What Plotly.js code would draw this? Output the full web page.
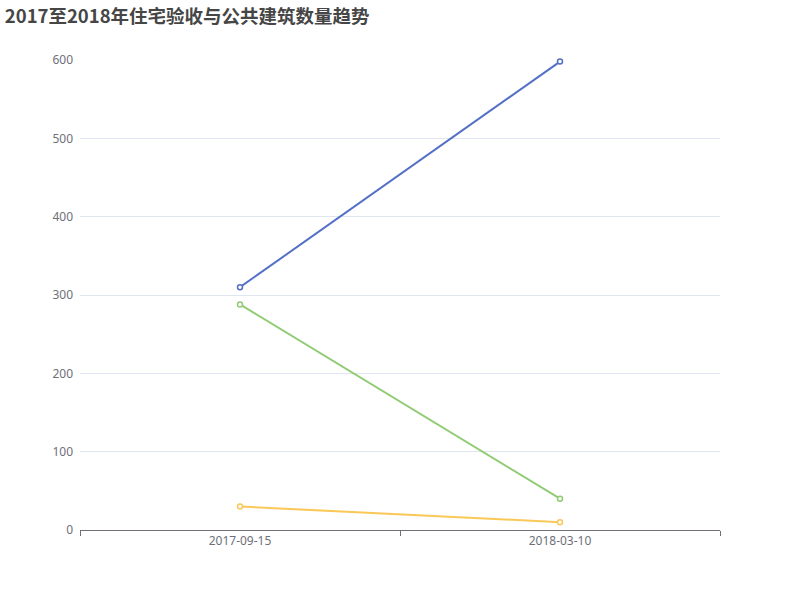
<!DOCTYPE html>
<html>
<head>
<meta charset="utf-8">
<script src="https://cdn.plot.ly/plotly-3.0.1.min.js"></script>
<style>
  html, body { margin: 0; padding: 0; background: #fff; }
  #chart { width: 800px; height: 600px; }
</style>
</head>
<body>
<div id="chart"></div>
<script>
const dates = ["2017-09-15", "2018-03-10"];
const seriesA = [310, 598];
const seriesB = [288, 40];
const seriesC = [30, 10];
const seriesNames = ["系列一", "系列二", "系列三"];
const colors = ["#5470c6", "#91cc75", "#fac858"];

// one line per series, hollow circle markers like the original
const traces = [seriesA, seriesB, seriesC].map((vals, i) => ({
  x: dates,
  y: vals,
  name: seriesNames[i],
  type: 'scatter',
  mode: 'lines+markers',
  cliponaxis: false,
  line: { color: colors[i], width: 2 },
  marker: { symbol: 'circle', size: 5, color: '#fff', line: { color: colors[i], width: 1.5 } }
}));

Plotly.newPlot('chart', traces, {
  width: 800,
  height: 600,
  showlegend: false,
  paper_bgcolor: '#fff',
  plot_bgcolor: '#fff',
  margin: { l: 80, r: 80, t: 60, b: 70 },
  title: {
    text: '2017至2018年住宅验收与公共建筑数量趋势',
    x: 0.006, xanchor: 'left', y: 0.973, yanchor: 'middle',
    font: { family: 'Noto Sans CJK SC, sans-serif', size: 18.5, color: '#464646', weight: 'bold' }
  },
  xaxis: {
    type: 'category',
    range: [-0.5, 1.5],
    tickson: 'boundaries',
    ticks: 'outside',
    ticklen: 5,
    tickcolor: '#6e7079',
    showline: true,
    linecolor: '#6e7079',
    linewidth: 1,
    showgrid: false,
    zeroline: false,
    tickfont: { family: 'Noto Sans, sans-serif', size: 12, color: '#6e7079' }
  },
  yaxis: {
    range: [0, 600],
    dtick: 100,
    showline: false,
    ticks: '',
    gridcolor: '#e0e6f1',
    zeroline: false,
    ticklabelstandoff: 6,
    tickfont: { family: 'Noto Sans, sans-serif', size: 12, color: '#6e7079' }
  }
}, { displayModeBar: false });
</script>
</body>
</html>
